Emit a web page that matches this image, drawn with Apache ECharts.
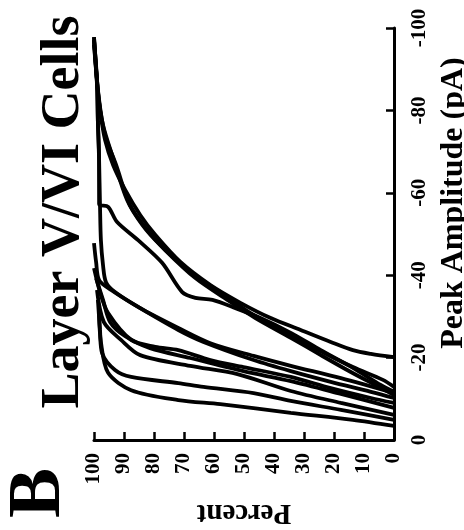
<!DOCTYPE html>
<html><head><meta charset="utf-8">
<script src="https://cdn.jsdelivr.net/npm/echarts@6/dist/echarts.min.js"></script>
<style>html,body{margin:0;padding:0;background:#fff}#c{width:464px;height:530px}</style>
</head><body><div id="c"></div>
<script>
// Each cell: cumulative distribution as [percent, peak amplitude (pA)]
const cellA = [[100,-97.8],[99.0,-87.4],[98.0,-80.1],[96.3,-72.8],[93.6,-66.7],[89.6,-60.7],[84.6,-54.6],[79.6,-49.8],[71.2,-43.2],[61.2,-37.6],[51.2,-33.3],[41.1,-29.6],[31.1,-26.7],[21.1,-23.8],[13.7,-21.8],[7.7,-20.9],[0,-20.1]];
const cellB = [[100,-97.1],[98.7,-84.5],[97.0,-76.5],[93.6,-68.4],[89.0,-58.3],[83.9,-52.2],[77.9,-47.3],[67.9,-40.8],[55.5,-34.7],[47.8,-30.8],[36.1,-26.0],[25.1,-21.8],[13.7,-17.7],[3.7,-14.6],[0,-12.9]];
const cellC = [[100,-95.9],[98.3,-82.5],[96.3,-74.0],[92.6,-66.7],[88.0,-57.0],[82.3,-51.0],[76.3,-46.1],[66.2,-39.3],[54.5,-33.5],[46.2,-29.6],[34.4,-24.8],[24.4,-20.6],[14.4,-16.5],[4.3,-12.6],[0,-10.9]];
const cellD = [[100,-97.1],[99.0,-87.4],[98.7,-77.2],[98.3,-68.0],[98.3,-57.3],[95.3,-56.6],[92.3,-52.9],[85.3,-48.5],[77.3,-43.0],[70.6,-35.9],[66.2,-34.5],[60.5,-34.0],[52.8,-32.0],[44.5,-29.6],[34.4,-26.0],[24.4,-21.8],[13.7,-17.5],[4.3,-13.3],[0,-11.7]];
const cellE = [[100,-97.8],[99.0,-86.2],[98.7,-77.2],[98.3,-68.0],[98.0,-57.0],[97.7,-48.5],[97.0,-42.5],[96.0,-38.3],[93.0,-35.9],[84.6,-32.0],[71.9,-27.2],[61.2,-23.5],[46.8,-20.4],[34.4,-18.0],[17.7,-15.0],[0,-11.4]];
const cellF = [[100,-47.8],[99.3,-43.2],[98.3,-38.8],[94.3,-36.4],[85.3,-32.3],[71.9,-26.7],[63.5,-23.8],[46.8,-19.4],[34.4,-16.7],[21.1,-14.1],[7.7,-11.7],[0,-10.2]];
const cellG = [[100,-41.7],[98.0,-35.9],[95.3,-30.8],[87.6,-24.3],[79.6,-22.6],[71.9,-21.8],[61.2,-19.4],[50.2,-17.7],[34.4,-15.3],[21.1,-12.6],[7.7,-10.2],[0,-9.0]];
const cellH = [[99.3,-39.3],[97.0,-34.0],[94.6,-28.6],[89.6,-25.2],[81.3,-22.3],[67.9,-19.9],[50.2,-16.7],[34.4,-14.3],[17.7,-11.2],[0,-7.8]];
const cellI = [[99.0,-36.4],[96.7,-28.6],[91.0,-24.3],[84.6,-20.6],[67.9,-18.0],[52.2,-16.0],[34.4,-11.9],[17.7,-9.0],[0,-6.1]];
const cellJ = [[98.7,-34.0],[98.0,-26.7],[97.3,-21.1],[93.0,-17.0],[87.6,-15.3],[71.9,-13.8],[63.5,-12.9],[46.8,-11.4],[34.4,-9.5],[17.7,-7.3],[0,-4.9]];
const cellK = [[98.3,-30.3],[97.7,-23.8],[95.3,-16.3],[87.6,-12.1],[71.9,-9.7],[57.9,-8.7],[34.4,-6.6],[13.7,-4.9],[0,-3.4]];
const cells = [cellA, cellB, cellC, cellD, cellE, cellF, cellG, cellH, cellI, cellJ, cellK];

const percentRange = [0, 100];
const percentStep = 10;
const ampRange = [-100, 0];
const ampStep = 20;
const panelLetter = 'B';
const titleText = 'Layer V/VI Cells';
const xTitle = 'Percent';
const yTitle = 'Peak Amplitude (pA)';

const FONT = '"Liberation Serif", "Times New Roman", serif';
const chart = echarts.init(document.getElementById('c'), null, {renderer: 'canvas'});
chart.setOption({
  animation: false,
  backgroundColor: '#fff',
  grid: {left: 94, right: 70, top: 28, bottom: 90, containLabel: false, outerBoundsMode: 'none'},
  xAxis: {
    type: 'value', min: percentRange[0], max: percentRange[1], interval: percentStep, inverse: true,
    position: 'bottom',
    name: xTitle, nameLocation: 'middle', nameRotate: 180, nameGap: 58,
    nameTextStyle: {fontFamily: FONT, fontWeight: 'bold', fontSize: 29, color: '#000'},
    axisLine: {show: true, lineStyle: {color: '#000', width: 3}},
    axisTick: {show: true, inside: true, length: 8, lineStyle: {color: '#000', width: 2.5}},
    axisLabel: {rotate: 90, margin: 13, fontFamily: FONT, fontWeight: 'bold', fontSize: 21, color: '#000', showMinLabel: true, showMaxLabel: true},
    splitLine: {show: false}
  },
  yAxis: {
    type: 'value', min: ampRange[0], max: ampRange[1], interval: ampStep, inverse: true,
    position: 'right',
    name: yTitle, nameLocation: 'middle', nameRotate: 90, nameGap: 42,
    nameTextStyle: {fontFamily: FONT, fontWeight: 'bold', fontSize: 32, color: '#000', padding: [0, 0, 0, 62]},
    axisLine: {show: true, lineStyle: {color: '#000', width: 3}},
    axisTick: {show: true, inside: true, length: 8, lineStyle: {color: '#000', width: 2.5}},
    axisLabel: {rotate: 90, margin: 15, fontFamily: FONT, fontWeight: 'bold', fontSize: 21, color: '#000', showMinLabel: true, showMaxLabel: true},
    splitLine: {show: false}
  },
  graphic: [
    {type: 'text', x: 64, y: 212, rotation: Math.PI / 2,
     style: {text: titleText, font: 'bold 54px ' + FONT, fill: '#000', align: 'center', verticalAlign: 'middle', textAlign: 'center', textVerticalAlign: 'middle'}},
    {type: 'text', x: 40, y: 493, rotation: Math.PI / 2,
     style: {text: panelLetter, font: 'bold 75px ' + FONT, fill: '#000', align: 'center', verticalAlign: 'middle', textAlign: 'center', textVerticalAlign: 'middle'}}
  ],
  series: cells.map((c, i) => ({
    type: 'line', name: 'cell' + (i + 1), data: c, showSymbol: false, smooth: 0.3,
    lineStyle: {color: '#000', width: 3.8}, z: 2
  }))
});
</script>
</body></html>
